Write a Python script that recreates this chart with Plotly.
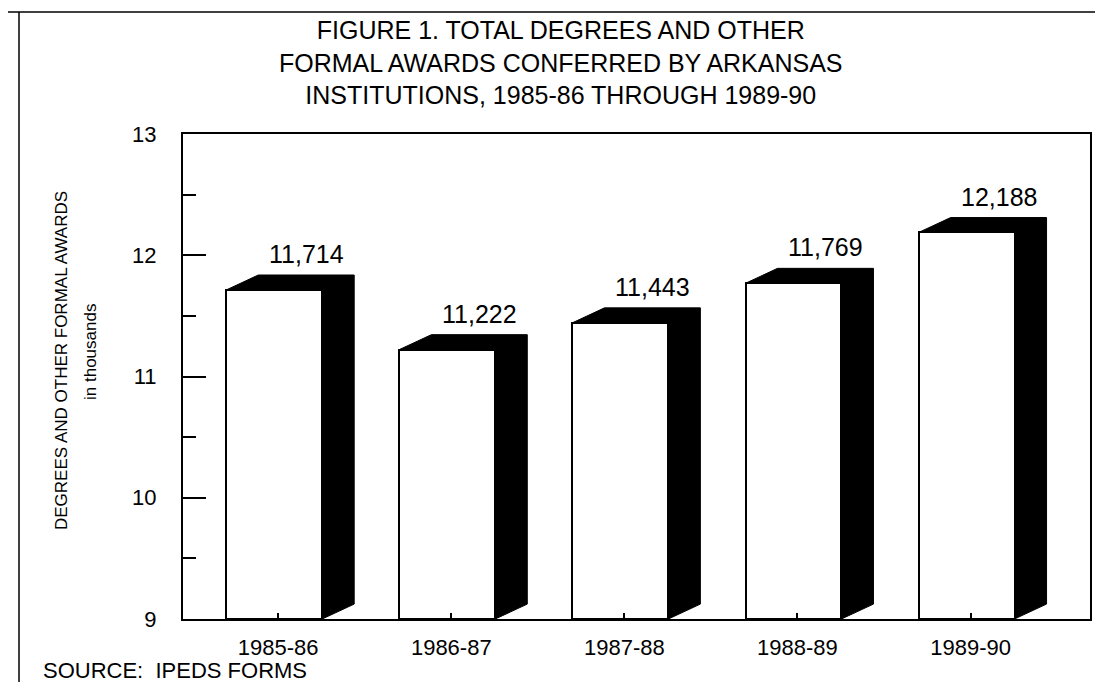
import plotly.graph_objects as go

# ---- data ----
years = ["1985-86", "1986-87", "1987-88", "1988-89", "1989-90"]
awards = [11714, 11222, 11443, 11769, 12188]
y_ticks = [9, 10, 11, 12, 13]
title_lines = [
    "FIGURE 1. TOTAL DEGREES AND OTHER",
    "FORMAL AWARDS CONFERRED BY ARKANSAS",
    "INSTITUTIONS, 1985-86 THROUGH 1989-90",
]
y_title = "DEGREES AND OTHER FORMAL AWARDS"
y_subtitle = "in thousands"
source = "SOURCE:  IPEDS FORMS"

# ---- geometry ----
W, H = 1103, 682
L, R, T, B = 175, 1082, 126, 611


def px(x):
    return (x - L) / (R - L)


def py(y):
    return (B - y) / (B - T)


BASE = 9
bw = 0.554      # bar front width (category units)
shift = -0.023  # front face offset from category centre
dx = 0.185      # 3D depth in x (category units)
dy = 0.123      # 3D depth in y (thousands)

FONT = "Liberation Sans, Arial, Helvetica, sans-serif"

xs = list(range(len(years)))
vals = [a / 1000 for a in awards]

fig = go.Figure()

# black top + side faces
for i, v in zip(xs, vals):
    xl = i + shift - bw / 2
    xr = i + shift + bw / 2
    fig.add_trace(go.Scatter(
        x=[xl, xl + dx, xr + dx, xr + dx, xr, xr, xl],
        y=[v, v + dy, v + dy, BASE + dy, BASE, v, v],
        mode="lines", fill="toself", fillcolor="black",
        line=dict(color="black", width=1), hoverinfo="skip",
    ))

# white front faces
fig.add_trace(go.Bar(
    x=[i + shift for i in xs], y=[v - BASE for v in vals], base=BASE,
    width=bw, marker=dict(color="white", line=dict(color="black", width=2)),
))

annotations = []
for i, v, a in zip(xs, vals, awards):
    annotations.append(dict(
        x=i + shift + dx, y=v + dy, xref="x", yref="y",
        text=f"{a:,}", showarrow=False, yanchor="middle", yshift=21,
        font=dict(size=25, color="black", family=FONT),
    ))

annotations.append(dict(
    x=px(553), y=py(54), xref="paper", yref="paper", text="<br>".join(title_lines),
    showarrow=False, xanchor="center", yanchor="middle", align="center",
    font=dict(size=25, color="black", family=FONT),
))

annotations.append(dict(
    x=px(53), y=py(353), xref="paper", yref="paper", text=y_title,
    showarrow=False, textangle=-90, xanchor="center", yanchor="middle",
    font=dict(size=17, color="black", family=FONT),
))
annotations.append(dict(
    x=px(82), y=py(344), xref="paper", yref="paper", text=y_subtitle,
    showarrow=False, textangle=-90, xanchor="center", yanchor="middle",
    font=dict(size=17, color="black", family=FONT),
))
annotations.append(dict(
    x=px(33), y=py(662), xref="paper", yref="paper", text=source,
    showarrow=False, xanchor="left", yanchor="middle",
    font=dict(size=22, color="black", family=FONT),
))

shapes = [
    dict(type="line", xref="paper", yref="paper", x0=px(0), x1=px(W), y0=py(4), y1=py(4),
         line=dict(color="black", width=1.5)),
    dict(type="line", xref="paper", yref="paper", x0=px(11), x1=px(11), y0=py(4), y1=py(H),
         line=dict(color="black", width=1.5)),
    dict(type="line", xref="paper", yref="paper", x0=px(872), x1=px(W), y0=py(681), y1=py(681),
         line=dict(color="#bbbbbb", width=1.5)),
]

fig.update_layout(
    width=W, height=H,
    margin=dict(l=L, r=W - R, t=T, b=H - B),
    paper_bgcolor="white", plot_bgcolor="white",
    showlegend=False, bargap=0,
    annotations=annotations, shapes=shapes,
    font=dict(family=FONT, color="black"),
    xaxis=dict(
        range=[-0.55, 4.69], tickvals=xs, ticktext=years,
        ticks="inside", ticklen=6, tickwidth=1.5, tickcolor="black",
        showline=True, mirror=True, linecolor="black", linewidth=2,
        showgrid=False, zeroline=False, ticklabelstandoff=8,
        tickfont=dict(size=22, color="black", family=FONT),
    ),
    yaxis=dict(
        range=[9, 13], tickvals=y_ticks,
        ticks="inside", ticklen=23, tickwidth=2, tickcolor="black",
        minor=dict(dtick=0.5, ticks="inside", ticklen=13, tickwidth=2, tickcolor="black"),
        showline=True, mirror=True, linecolor="black", linewidth=2,
        showgrid=False, zeroline=False, ticklabelstandoff=20,
        tickfont=dict(size=22, color="black", family=FONT),
    ),
)

fig.write_html("out.html")
